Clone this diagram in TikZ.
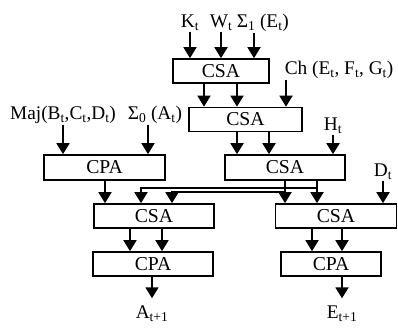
\documentclass[tikz,border=0pt]{standalone}
\usepackage{fontspec}
\setmainfont{Liberation Serif}
\usepackage{tikz}
\usetikzlibrary{arrows.meta}

\begin{document}
\begin{tikzpicture}[
    unit/.style={
        draw, minimum height=1.2cm, inner sep=0pt,
        line width=2.4pt, font=\fontsize{28}{30}\selectfont
    },
    lbl/.style={inner sep=1pt, font=\fontsize{27.5}{30}\selectfont},
    arr/.style={-{Triangle[width=0.65cm,length=0.55cm]}, line width=2.6pt}
]
    \useasboundingbox (0,0) rectangle (19.9,16.45);

    \node[unit, minimum width=4.8cm] (csa1) at (11.05,12.9) {CSA};
    \node[unit, minimum width=5.65cm] (csa2) at (12.275,10.475) {CSA};
    \node[unit, minimum width=6.05cm, minimum height=1.25cm] (cpa1) at (5.225,8.075) {CPA};
    \node[unit, minimum width=6cm, minimum height=1.25cm] (csa3) at (14.25,8.075) {CSA};
    \node[unit, minimum width=6cm] (csa4) at (7.7,5.65) {CSA};
    \node[unit, minimum width=6.05cm] (csa5) at (16.8,5.65) {CSA};
    \node[unit, minimum width=6cm] (cpa2) at (7.65,3.25) {CPA};
    \node[unit, minimum width=5cm] (cpa3) at (16.55,3.25) {CPA};

    \node[lbl] (kt) at (9.5,15.3) {K\textsubscript{t}};
    \node[lbl] (wt) at (11.05,15.3) {W\textsubscript{t}};
    \node[lbl, anchor=west] (sig1) at (11.8,15.3) {Σ\textsubscript{1} (E\textsubscript{t})};
    \node[lbl, anchor=west] (ch) at (14.2,12.95) {Ch (E\textsubscript{t}, F\textsubscript{t}, G\textsubscript{t})};
    \node[lbl] (maj) at (3.15,10.7) {Maj(B\textsubscript{t},C\textsubscript{t},D\textsubscript{t})};
    \node[lbl, anchor=west] (sig0) at (6.35,10.7) {Σ\textsubscript{0} (A\textsubscript{t})};
    \node[lbl] (ht) at (16.65,10.15) {H\textsubscript{t}};
    \node[lbl] (dt) at (19.15,7.85) {D\textsubscript{t}};
    \node[lbl] (anext) at (7.6,0.75) {A\textsubscript{t+1}};
    \node[lbl] (enext) at (17.1,0.75) {E\textsubscript{t+1}};

    \coordinate (sig1x) at (12.7,0);
    \coordinate (chx) at (14.3,0);
    \coordinate (sig0x) at (7.4,0);
    \coordinate (r1) at (14.25,0);
    \coordinate (r2) at (15.85,0);
    \coordinate (l2) at (7.05,0);
    \coordinate (l3) at (8.6,0);
    \coordinate (h1) at (0,7.05);
    \coordinate (h2) at (0,6.85);

    \draw[arr] (kt) -- (kt |- csa1.north);
    \draw[arr] (wt) -- (wt |- csa1.north);
    \draw[arr] (sig1.south -| sig1x) -- (csa1.north -| sig1x);
    \draw[arr] (ch.south -| chx) -- (csa2.north -| chx);
    \draw[arr] (maj) -- (maj |- cpa1.north);
    \draw[arr] (sig0.south -| sig0x) -- (cpa1.north -| sig0x);
    \draw[arr] (ht) -- (ht |- csa3.north);
    \draw[arr] (dt) -- (dt |- csa5.north);

    \foreach \from/\to/\x in {csa1/csa2/10.2, csa1/csa2/11.85, csa2/csa3/11.85,
        csa2/csa3/13.45, cpa1/csa4/5.25, csa3/csa5/14.25, csa3/csa5/15.85,
        csa4/cpa2/6.5, csa4/cpa2/8.1, csa5/cpa3/15.6, csa5/cpa3/17.1} {
        \coordinate (col) at (\x,0);
        \draw[arr] (\from.south -| col) -- (\to.north -| col);
    }

    \draw[arr] (h1 -| r2) -| (csa4.north -| l2);
    \draw[arr] (h2 -| r1) -| (csa4.north -| l3);

    \draw[arr] (cpa2.south -| anext) -- ([yshift=0.35cm]anext.north);
    \draw[arr] (cpa3.south -| enext) -- ([yshift=0.35cm]enext.north);
\end{tikzpicture}
\end{document}
